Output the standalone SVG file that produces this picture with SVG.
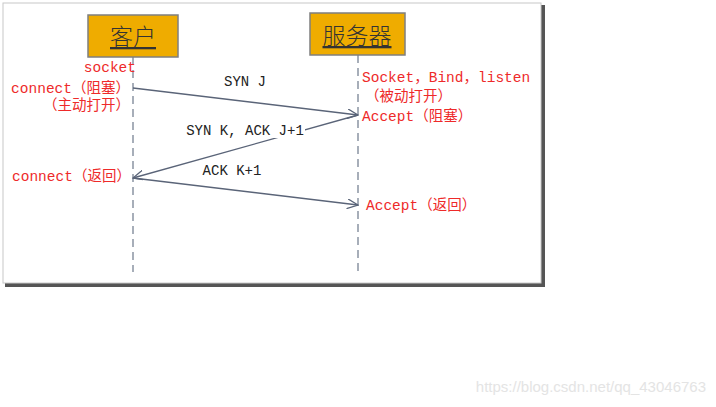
<svg xmlns="http://www.w3.org/2000/svg" width="716" height="407" viewBox="0 0 716 407">
<defs>
<style>
.red{fill:#ee2a2a;font-family:"Liberation Mono","Noto Sans CJK SC",monospace;font-size:14.5px}
.blk{fill:#222;font-family:"Liberation Mono","Noto Sans CJK SC",monospace;font-size:14px}
.title{fill:#333;font-family:"Noto Sans CJK SC",sans-serif;font-size:23px;font-weight:300;text-anchor:middle;text-decoration:underline}
.box{fill:#efac00;stroke:#7f7f7f;stroke-width:1.5}
.life{stroke:#8a94a3;stroke-width:1.5;stroke-dasharray:8 5;fill:none}
.msg{stroke:#5a6478;stroke-width:1.3;fill:none;marker-end:url(#arr)}
</style>
<marker id="arr" viewBox="0 0 12 10" refX="11" refY="5" markerWidth="12" markerHeight="10" markerUnits="userSpaceOnUse" orient="auto">
<path d="M0,0 L11,5 L0,10" fill="none" stroke="#5a6478" stroke-width="1.3"/>
</marker>
</defs>
<rect width="716" height="407" fill="#fff"/>
<rect x="5" y="5" width="540" height="282" fill="#555"/>
<rect x="3" y="3" width="538" height="280" fill="#fff" stroke="#c8c8c8" stroke-width="1"/>
<g id="lifelines">
<line class="life" x1="133" y1="57" x2="133" y2="272"/>
<line class="life" x1="358" y1="55" x2="358" y2="272"/>
</g>
<g id="client">
<rect class="box" x="88" y="15" width="90" height="42"/>
<text class="title" x="133" y="45">客户</text>
</g>
<g id="server">
<rect class="box" x="310" y="13" width="95" height="42"/>
<text class="title" x="357" y="44">服务器</text>
</g>
<g id="connectors">
<line class="msg" x1="133" y1="88" x2="358" y2="115"/>
<line class="msg" x1="358" y1="115" x2="133" y2="178"/>
<line class="msg" x1="133" y1="178" x2="358" y2="205"/>
</g>
<g id="labels">
<text class="blk" x="245" y="86" text-anchor="middle">SYN J</text>
<rect x="184" y="121" width="121" height="17" fill="#fff"/>
<text class="blk" x="245" y="135" text-anchor="middle">SYN K, ACK J+1</text>
<text class="blk" x="232" y="175" text-anchor="middle">ACK K+1</text>
</g>
<g id="client-notes">
<text class="red" x="136" y="72" text-anchor="end">socket</text>
<text class="red" x="130" y="93" text-anchor="end">connect（阻塞）</text>
<text class="red" x="130" y="110" text-anchor="end">（主动打开）</text>
<text class="red" x="12" y="181">connect（返回）</text>
</g>
<g id="server-notes">
<text class="red" x="362" y="82">Socket，Bind，listen</text>
<text class="red" x="365" y="101">（被动打开）</text>
<text class="red" x="362" y="121">Accept（阻塞）</text>
<text class="red" x="366" y="210">Accept（返回）</text>
</g>
<text x="706" y="392" text-anchor="end" style="fill:#e4e4e4;font-family:'Liberation Sans',Arial,sans-serif;font-size:15px">https://blog.csdn.net/qq_43046763</text>
</svg>
